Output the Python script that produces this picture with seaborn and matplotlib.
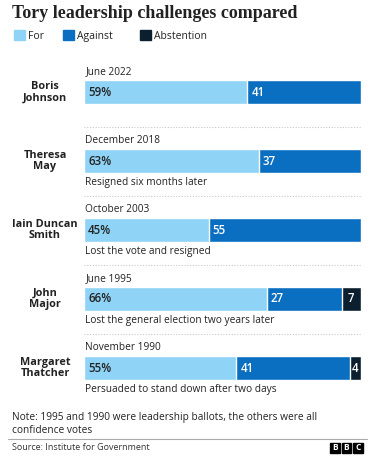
import matplotlib
matplotlib.use("Agg")
import matplotlib.pyplot as plt
import matplotlib.patches as mpatches
import seaborn as sns
import pandas as pd

# data
leaders = ["Boris\nJohnson", "Theresa\nMay", "Iain Duncan\nSmith", "John\nMajor", "Margaret\nThatcher"]
dates = ["June 2022", "December 2018", "October 2003", "June 1995", "November 1990"]
for_pct = [59, 63, 45, 66, 55]
against_pct = [41, 37, 55, 27, 41]
abstain_pct = [0, 0, 0, 7, 4]
outcomes = ["", "Resigned six months later", "Lost the vote and resigned",
            "Lost the general election two years later", "Persuaded to stand down after two days"]

C_FOR = "#8fd3f6"
C_AGAINST = "#0b6fc1"
C_ABST = "#0c1f2e"
TXT = "#222222"

sns.set_theme(style="white")
plt.rcParams["font.family"] = ["Open Sans", "DejaVu Sans"]

df = pd.DataFrame({"leader": leaders, "for": for_pct, "against": against_pct, "abst": abstain_pct})
df["for_against"] = df["for"] + df["against"]
df["total"] = df["for_against"] + df["abst"]

W, H = 381, 466
fig = plt.figure(figsize=(W / 100, H / 100), dpi=100)
fig.patch.set_facecolor("white")

# axes covering the bar area (pixel coords from the reference)
x0, x1 = 84, 361
y_top, y_bot = 60, 400
ax = fig.add_axes([x0 / W, 1 - y_bot / H, (x1 - x0) / W, (y_bot - y_top) / H])
bw = 0.36

# stacked bars by overdrawing cumulative totals
sns.barplot(data=df, x="total", y="leader", color=C_ABST, width=bw, orient="h", ax=ax, saturation=1)
sns.barplot(data=df, x="for_against", y="leader", color=C_AGAINST, width=bw, orient="h", ax=ax, saturation=1)
sns.barplot(data=df, x="for", y="leader", color=C_FOR, width=bw, orient="h", ax=ax, saturation=1)

px_per_unit = 69
c0 = 92
ax.set_ylim((y_bot - c0) / px_per_unit, (y_top - c0) / px_per_unit)
ax.set_xlim(0, 100)
ax.axis("off")

for i, row in df.iterrows():
    ax.text(-14.1, i, row["leader"], ha="center", va="center", multialignment="center",
            fontsize=7.8, fontweight="bold", color=TXT, clip_on=False, linespacing=1.1)
    ax.text(0.5, i - bw / 2 - 0.04, dates[i], ha="left", va="bottom", fontsize=7.3, color=TXT)
    if outcomes[i]:
        ax.text(0.5, i + bw / 2 + 0.05, outcomes[i], ha="left", va="top", fontsize=7.3, color=TXT)
    ax.text(1.5, i, f"{row['for']}%", ha="left", va="center", fontsize=8.3, color=TXT,
            fontweight="semibold")
    ax.text(row["for"] + 1.5, i, f"{row['against']}", ha="left", va="center", fontsize=8.3,
            color="white", fontweight="semibold")
    if row["abst"]:
        ax.text(row["for_against"] + row["abst"] / 2, i, f"{row['abst']}", ha="center", va="center",
                fontsize=8.3, color="white", fontweight="semibold")
    if i < len(df) - 1:
        ax.plot([0, 100], [i + 0.5, i + 0.5], color="#c8c8c8", lw=0.8, ls=(0, (1, 1.5)), clip_on=False)

# title and legend
fig.text(12 / W, 1 - 14 / H, "Tory leadership challenges compared", ha="left", va="center",
         fontsize=13, fontweight="bold", color=TXT, family=["Liberation Serif", "DejaVu Serif"])
leg_items = [(14, C_FOR, "For"), (63, C_AGAINST, "Against"), (140, C_ABST, "Abstention")]
for lx, col, lab in leg_items:
    fig.patches.append(mpatches.Rectangle((lx / W, 1 - 40 / H), 11 / W, 10 / H,
                                          transform=fig.transFigure, color=col))
    fig.text((lx + 14) / W, 1 - 39 / H, lab, ha="left", va="baseline", fontsize=7.5, color=TXT)

# footer
fig.text(12 / W, 1 - 424 / H, "Note: 1995 and 1990 were leadership ballots, the others were all\nconfidence votes",
         ha="left", va="center", fontsize=7.3, color=TXT, linespacing=1.2)
fig.add_artist(plt.Line2D([8 / W, 367 / W], [1 - 439 / H, 1 - 439 / H], color="#aaaaaa", lw=0.8))
fig.text(12 / W, 1 - 448 / H, "Source: Institute for Government", ha="left", va="center",
         fontsize=6.5, color="#333333")
for k, ch in enumerate("BBC"):
    bx = 330 + k * 11.5
    fig.patches.append(mpatches.Rectangle((bx / W, 1 - 453 / H), 9.5 / W, 10 / H,
                                          transform=fig.transFigure, color="black"))
    fig.text((bx + 4.75) / W, 1 - 448 / H, ch, ha="center", va="center", fontsize=6,
             fontweight="bold", color="white")

fig.savefig("out.png", dpi=100)
